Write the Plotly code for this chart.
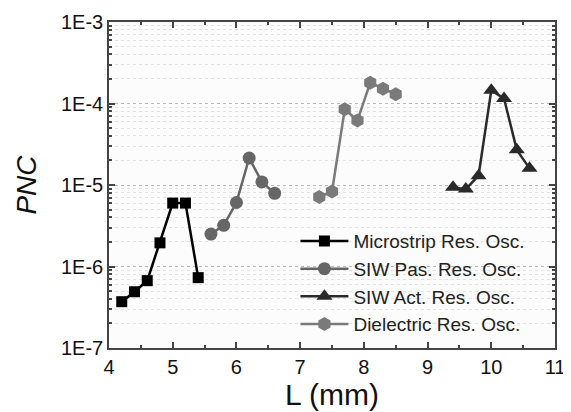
import plotly.graph_objects as go

ms_x = [4.2, 4.4, 4.6, 4.8, 5.0, 5.2, 5.4]
ms_y = [3.7e-7, 4.9e-7, 6.7e-7, 1.95e-6, 6.0e-6, 6.0e-6, 7.3e-7]

sp_x = [5.6, 5.8, 6.0, 6.2, 6.4, 6.6]
sp_y = [2.5e-6, 3.2e-6, 6.1e-6, 2.14e-5, 1.09e-5, 7.9e-6]

sa_x = [9.4, 9.6, 9.8, 10.0, 10.2, 10.4, 10.6]
sa_y = [9.4e-6, 8.9e-6, 1.3e-5, 1.45e-4, 1.15e-4, 2.7e-5, 1.6e-5]

dr_x = [7.3, 7.5, 7.7, 7.9, 8.1, 8.3, 8.5]
dr_y = [7.1e-6, 8.3e-6, 8.5e-5, 6.2e-5, 1.8e-4, 1.52e-4, 1.3e-4]

names = ["Microstrip Res. Osc.", "SIW Pas. Res. Osc.", "SIW Act. Res. Osc.", "Dielectric Res. Osc."]
y_tickvals = [1e-7, 1e-6, 1e-5, 1e-4, 1e-3]
y_ticktext = ["1E-7", "1E-6", "1E-5", "1E-4", "1E-3"]
x_tickvals = [4, 5, 6, 7, 8, 9, 10, 11]

fig = go.Figure()
series = [
    (ms_x, ms_y, names[0], "#000000", "square", 11),
    (sp_x, sp_y, names[1], "#666666", "circle", 13),
    (sa_x, sa_y, names[2], "#2a2a2a", "triangle-up", 14),
    (dr_x, dr_y, names[3], "#7a7a7a", "hexagon", 14),
]
for x, y, n, c, s, sz in series:
    fig.add_trace(go.Scatter(x=x, y=y, name=n, mode="lines+markers",
                             line=dict(color=c, width=2.5),
                             marker=dict(symbol=s, size=sz, color=c)))

# page body has an 8px margin, so the figure is sized/offset to compensate
fig.update_layout(
    width=563, height=404,
    margin=dict(l=101, r=16, t=14, b=64),
    paper_bgcolor="white", plot_bgcolor="#fcfcfc",
    font=dict(family="Liberation Sans, Arial, sans-serif", color="#111111", size=20),
    showlegend=True,
    legend=dict(x=0.418, y=0.015, xanchor="left", yanchor="bottom",
                bgcolor="rgba(0,0,0,0)", font=dict(size=19, color="#222222"),
                tracegroupgap=0, itemwidth=48),
)
fig.update_xaxes(range=[4, 11], tickvals=x_tickvals, ticks="inside", ticklen=6,
                 tickwidth=1.5, tickcolor="#444", showline=True, linecolor="#444",
                 linewidth=1.5, mirror="allticks", showgrid=False, zeroline=False,
                 tickfont=dict(size=20), automargin=False,
                 minor=dict(ticks="inside", ticklen=3, tickcolor="#444", dtick=0.5, showgrid=False),
                 title=dict(text="L (mm)", font=dict(size=30), standoff=0))
fig.update_yaxes(type="log", range=[-7, -3], tickvals=y_tickvals, ticktext=y_ticktext,
                 ticks="inside", ticklen=6, tickwidth=1.5, tickcolor="#444",
                 showline=True, linecolor="#444", linewidth=1.5, mirror="allticks",
                 showgrid=True, gridcolor="#bbbbbb", griddash="dot", gridwidth=1,
                 zeroline=False, tickfont=dict(size=20), automargin=False,
                 minor=dict(ticks="inside", ticklen=3, tickcolor="#444", dtick="D1",
                            showgrid=True, gridcolor="#e2e2e2", griddash="dot"),
                 title=dict(text="<i>PNC</i>", font=dict(size=28), standoff=16))

fig.write_html("out.html")
